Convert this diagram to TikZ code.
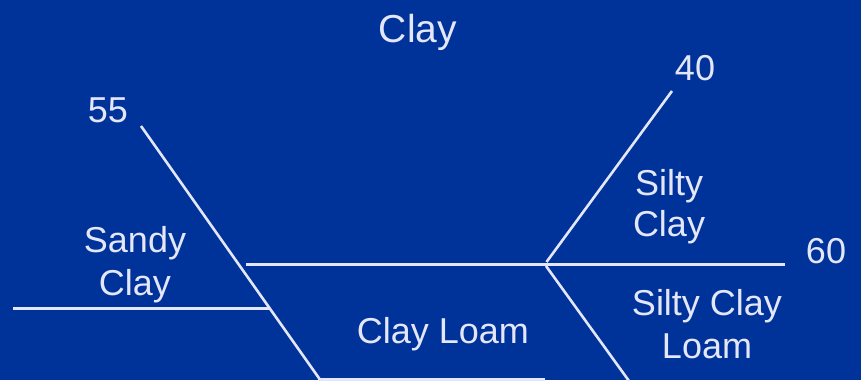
\documentclass[tikz,border=0pt]{standalone}
\usepackage{fontspec}
\setmainfont{Liberation Sans}
\definecolor{bg}{HTML}{003399}
\definecolor{fg}{HTML}{E4E6FA}
\begin{document}
\begin{tikzpicture}[x=1pt,y=-1pt,
  lbl/.style={text=fg,font=\fontsize{36}{43}\selectfont,anchor=base,inner sep=0pt},
  ln/.style={draw=fg,line width=2.6pt}]
\fill[bg] (0,0) rectangle (861,380);
\useasboundingbox (0,0) rectangle (861,380);
% coordinates
\coordinate (a) at (141,126);
\coordinate (b) at (270,308.5);
\coordinate (c) at (321,381);
\coordinate (l) at (13,308.5);
\coordinate (m1) at (246,264.5);
\coordinate (m2) at (785,264.5);
\coordinate (j) at (546,264.5);
\coordinate (ju) at (546.5,262);
\coordinate (t) at (672,91);
\coordinate (jd) at (546,266);
\coordinate (d) at (629,381);
\coordinate (bl) at (318,379.5);
\coordinate (br) at (545,379.5);
% lines
\draw[ln] (a) -- (c);
\draw[ln] (l) -- (b);
\draw[ln] (m1) -- (m2);
\draw[ln] (ju) -- (t);
\draw[ln] (jd) -- (d);
\begin{scope}
\clip (0,0) rectangle (861,380);
\draw[ln] (bl) -- (br);
\end{scope}
% labels
\node[lbl,font=\fontsize{39}{46}\selectfont] (clay) at (418,42) {Clay};
\node[lbl] (n55) at (108,122) {55};
\node[lbl] (n40) at (695,80) {40};
\node[lbl] (n60) at (826,263) {60};
\node[lbl] (sandy1) at (135,252) {Sandy};
\node[lbl] (sandy2) at (135,295) {Clay};
\node[lbl] (silty1) at (669,195) {Silty};
\node[lbl] (silty2) at (669,236) {Clay};
\node[lbl] (scl1) at (707,315) {Silty Clay};
\node[lbl] (scl2) at (707,358) {Loam};
\node[lbl] (cl) at (443,343) {Clay Loam};
\end{tikzpicture}
\end{document}
